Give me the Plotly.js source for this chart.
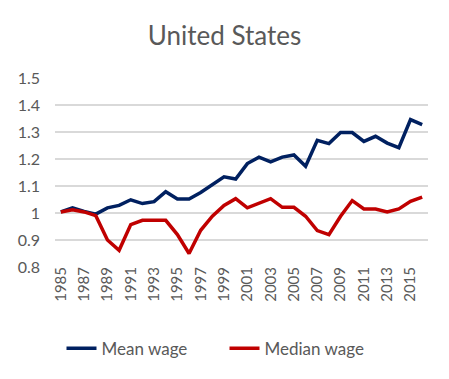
<!DOCTYPE html>
<html>
<head>
<meta charset="utf-8">
<script src="https://cdn.plot.ly/plotly-3.0.1.min.js"></script>
<style>html,body{margin:0;padding:0;background:#fff;}#chart{width:449px;height:379px;}</style>
</head>
<body>
<div id="chart"></div>
<script>
const years = [1985,1986,1987,1988,1989,1990,1991,1992,1993,1994,1995,1996,1997,1998,1999,2000,2001,2002,2003,2004,2005,2006,2007,2008,2009,2010,2011,2012,2013,2014,2015,2016];
const meanWage = [1.004,1.019,1.006,0.996,1.019,1.028,1.049,1.035,1.042,1.079,1.052,1.052,1.076,1.104,1.134,1.126,1.183,1.207,1.189,1.207,1.215,1.173,1.269,1.257,1.298,1.298,1.265,1.284,1.259,1.242,1.346,1.327];
const medianWage = [1.004,1.012,1.004,0.990,0.900,0.862,0.957,0.973,0.973,0.973,0.920,0.850,0.936,0.988,1.028,1.053,1.019,1.037,1.053,1.021,1.021,0.988,0.935,0.920,0.988,1.046,1.015,1.015,1.004,1.015,1.043,1.059];
const tickYears = [1985,1987,1989,1991,1993,1995,1997,1999,2001,2003,2005,2007,2009,2011,2013,2015];

const font = {family: 'Lato, "Open Sans", sans-serif', color: '#595959'};
const data = [
  {x: years, y: meanWage, name: 'Mean wage', type: 'scatter', mode: 'lines',
   line: {color: '#002060', width: 3.5}},
  {x: years, y: medianWage, name: 'Median wage', type: 'scatter', mode: 'lines',
   line: {color: '#C00000', width: 3.5}}
];
const layout = {
  width: 449, height: 379,
  margin: {l: 55, r: 21, t: 78, b: 112},
  paper_bgcolor: '#fff', plot_bgcolor: '#fff',
  font: font,
  title: {text: 'United States', x: 0.5, xref: 'container', xanchor: 'center', y: 0.905, yref: 'container', yanchor: 'middle',
          font: {family: font.family, size: 26, color: '#595959'}},
  showlegend: true,
  legend: {orientation: 'h', x: 0.5, xanchor: 'center', xref: 'container', y: 0.08, yref: 'container', yanchor: 'middle',
           itemwidth: 30, entrywidth: 118, entrywidthmode: 'pixels',
           font: {family: font.family, size: 17, color: '#595959'}},
  xaxis: {
    range: [1984.5, 2016.5], tickmode: 'array', tickvals: tickYears, ticktext: tickYears.map(String),
    tickangle: -90, showgrid: false, zeroline: false, showline: false, ticks: '',
    ticklabelstandoff: -4,
    tickfont: {family: font.family, size: 15, color: '#595959'}, fixedrange: true
  },
  yaxis: {
    range: [0.8, 1.5], tickmode: 'array', tickvals: [0.8,0.9,1.0,1.1,1.2,1.3,1.4,1.5],
    ticktext: ['0.8','0.9','1','1.1','1.2','1.3','1.4','1.5'],
    showgrid: true, gridcolor: '#D9D9D9', gridwidth: 1.5, zeroline: false, showline: false, ticks: '',
    ticklabelstandoff: 14,
    tickfont: {family: font.family, size: 16, color: '#595959'}, fixedrange: true
  }
};
Plotly.newPlot('chart', data, layout, {displayModeBar: false, staticPlot: true});
</script>
</body>
</html>
